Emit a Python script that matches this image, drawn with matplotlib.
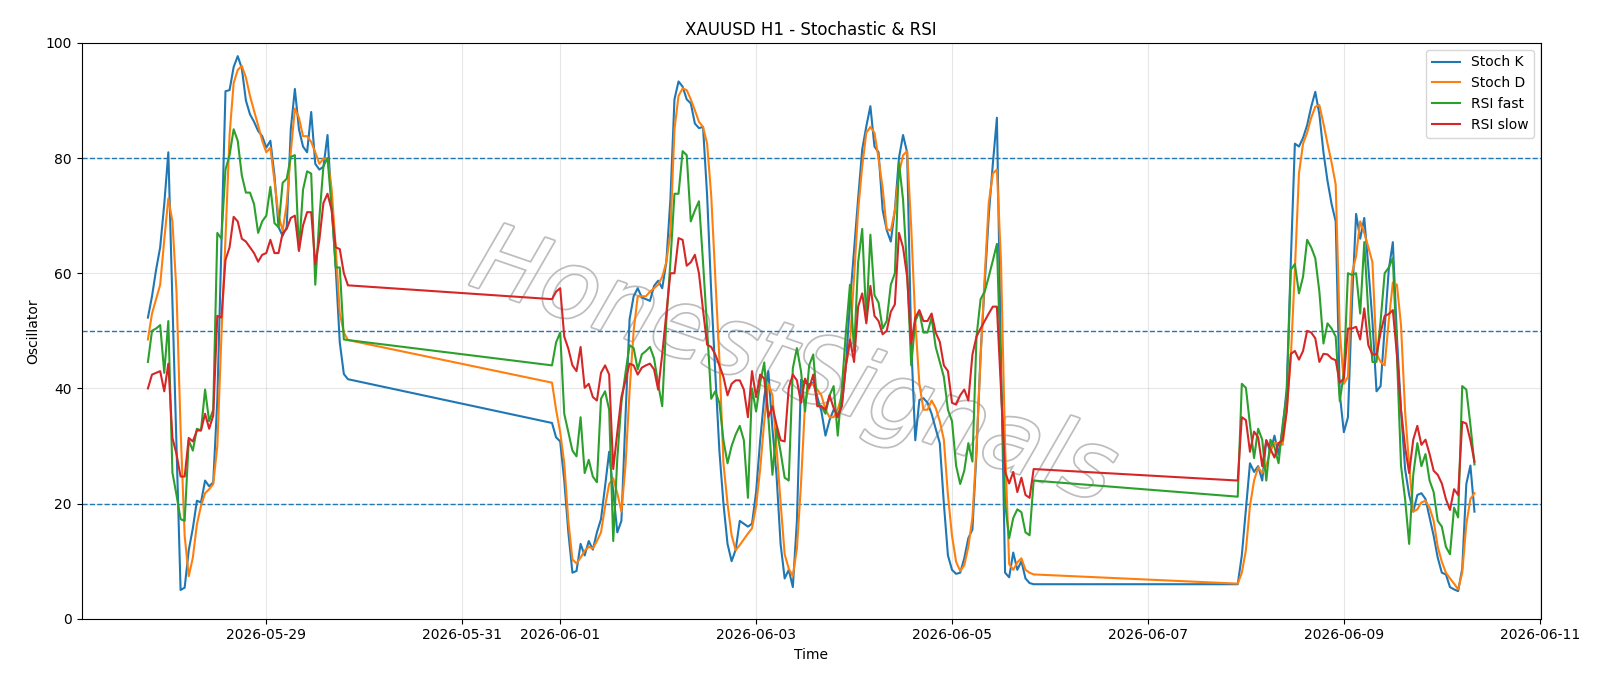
# XAUUSD H1 oscillators: Stochastic %K/%D and fast/slow RSI
# Hourly bars, three trading sessions (weekends skipped, lines join across gaps)

import pandas as pd
import matplotlib
matplotlib.use("Agg")
import matplotlib.pyplot as plt
import matplotlib.patheffects as pe

# trading sessions (start, end) - hourly bars
SESSIONS = [
    ("2026-05-27 19:00", "2026-05-29 20:00"),
    ("2026-05-31 22:00", "2026-06-05 20:00"),
    ("2026-06-07 22:00", "2026-06-10 08:00"),
]

# values read per hour, session by session
stoch_k = [
    # session 1
    52.3, 56, 60.6, 64.5, 72, 81, 55, 30, 5, 5.4,
    11.9, 15.7, 20.5, 20.2, 24, 23, 23.7, 38, 65, 91.6,
    91.8, 95.8, 97.7, 95.6, 90, 87.6, 86.3, 84.7, 83.8, 81.8,
    83, 77, 68, 66.5, 68, 85, 92, 85, 82, 81,
    88, 79, 78, 78.5, 84, 72, 61, 48, 42.5, 41.6,
    # session 2
    34, 31.5, 30.8, 24, 15, 8, 8.3, 13, 11, 13.5,
    12, 15, 17.3, 23, 29, 22, 15, 17, 35, 52,
    56, 57.4, 55.8, 55.5, 55.2, 57.8, 58.7, 57.4, 61.9, 72.8,
    90.2, 93.3, 92.4, 90.2, 89.5, 86, 85.2, 85.4, 73.5, 56.8,
    42.7, 29.2, 20, 13, 10, 12, 17, 16.5, 16, 16.5,
    22, 31, 38.5, 43, 33, 25, 13, 7, 8.5, 5.5,
    17, 41.5, 41, 40.7, 41, 38.5, 36, 31.8, 34.5, 36.3,
    35.5, 37, 44, 55, 64, 73, 81.5, 85.5, 89, 82,
    81, 71, 67.5, 65.5, 71, 80, 84, 81, 48, 31,
    38, 38.3, 37.5, 35.6, 33, 30.5, 20, 11, 8.5, 7.8,
    8, 10.5, 14, 15.5, 29, 46, 58, 70, 79, 87,
    45, 8, 7.2, 11.5, 8.5, 10, 7, 6.2, 6,
    # session 3
    6, 11, 19, 27, 25.5, 26.5, 24, 31, 29, 31.8,
    28.5, 33, 40, 62, 82.5, 82, 83.5, 85.7, 88.9, 91.5,
    87.6, 81, 76, 72, 69, 39, 32.4, 35, 55, 70.3,
    66, 69.6, 61, 51.7, 39.5, 40.4, 50.4, 60.6, 65.4, 49,
    36.3, 26, 21.5, 18.6, 21.5, 21.8, 20.8, 17.6, 14.4, 10.6,
    8, 7.7, 5.5, 5.1, 4.8, 8.7, 23.4, 26.6, 18.6,
]

stoch_d = [
    # session 1
    48.5, 53, 55.5, 58, 65.8, 73, 69, 56.8, 33, 14.4,
    7.4, 10.6, 16.4, 19.6, 21.8, 22.5, 23.4, 30, 49, 66,
    84, 93, 95.3, 96, 94, 90.8, 88.2, 85.7, 83, 81,
    81.8, 76, 70, 67.4, 72, 81, 88.6, 87, 83.8, 83.8,
    82.8, 81, 79, 79.9, 79.9, 74.7, 64.5, 53, 49.7, 48.4,
    # session 2
    41, 36.3, 32.4, 27, 17, 10.3, 9.6, 10.6, 11.8, 12.5,
    12.2, 13.5, 15, 19.5, 23.4, 24.4, 21.8, 18.6, 26.6, 39.5,
    50, 56, 56, 56, 56.8, 57.4, 58, 59.4, 61.9, 67,
    85, 90.8, 92.1, 91.8, 90.2, 88.3, 86.3, 85.4, 82.5, 73.5,
    59.4, 45.2, 27, 20, 14.5, 11.9, 12.8, 13.8, 14.8, 15.7,
    19.6, 26, 34.3, 40.8, 38.8, 29.8, 20.2, 11.2, 8.7, 7.4,
    12.2, 23.4, 37.5, 40.4, 40.8, 39.8, 38.8, 36.3, 35, 35,
    36.3, 38.8, 44, 47.8, 59.4, 70.9, 78.6, 84.4, 85.4, 84.4,
    79.9, 74.8, 67.7, 67.4, 70.9, 77.3, 80.5, 81.2, 68, 51.7,
    40.8, 36.3, 36.3, 37.9, 36.6, 34.3, 31.1, 21.5, 14.4, 9.9,
    8.3, 9.3, 12.5, 17.6, 29.8, 45.2, 59.4, 72.2, 77.3, 78,
    62, 30, 9.5, 8.5, 9.8, 10.5, 8.5, 8, 7.7,
    # session 3
    6.1, 8, 11.9, 19.6, 24, 26.3, 25.3, 26.6, 29.2, 30.5,
    30.5, 30.2, 36.3, 45.2, 60.6, 77.3, 82.5, 84.4, 87, 88.9,
    89.2, 86, 82.5, 79.2, 75.4, 50, 40.8, 42, 60, 63,
    69, 67, 64.5, 61.9, 46, 44.6, 44, 51.7, 58.4, 58,
    51, 36, 26.6, 18.6, 19, 20.2, 20.5, 19.3, 17, 12.5,
    9.9, 8, 7, 6.1, 5.1, 8, 16.4, 20.8, 21.8,
]

rsi_fast = [
    # session 1
    44.6, 50, 50.4, 51, 42.7, 51.7, 25.4, 21.5, 17.3, 17,
    31, 29.2, 33, 32.7, 39.8, 34.3, 36.3, 67, 66, 78,
    80.5, 85, 83, 77, 74, 74, 72, 67, 69, 70,
    75, 68.7, 68, 75.7, 76.4, 80.2, 80.5, 63.9, 74.5, 77.7,
    77.3, 58, 69.6, 78.6, 80, 71.5, 61, 61, 48.5, 48.4,
    # session 2
    44, 48, 49.7, 35.6, 32.4, 29.2, 28.2, 35, 25.3, 27.6,
    24.7, 23.7, 38.2, 39.5, 36.3, 13.5, 27.9, 37.5, 42.7, 47.5,
    47, 43.3, 45.9, 46.5, 47.2, 45.2, 40.8, 36.9, 51.7, 61.9,
    73.8, 73.8, 81.2, 80.5, 69, 70.9, 72.5, 61.9, 50.4, 38.2,
    39.5, 37.5, 31, 27, 30, 32, 33.5, 31, 21, 40,
    36, 41, 44.5, 35, 25, 33, 29, 24.5, 24, 43.5,
    47, 43, 36, 44, 45.9, 37.2, 36.9, 35.6, 38.8, 40.4,
    31.8, 40, 49.7, 58, 46.5, 61.9, 67.7, 51.7, 66.7, 56.2,
    54.9, 50.4, 51.7, 58, 60, 79.2, 72.8, 60.6, 44, 51.7,
    53.3, 49.7, 49.7, 52.3, 47.2, 44.6, 42, 36.3, 34.3, 26.6,
    23.4, 25.7, 30.5, 27.3, 49, 55.5, 56.8, 59.4, 62.2, 65.1,
    42, 20, 14, 17.5, 19, 18.5, 15, 14.5, 24,
    # session 3
    21.2, 40.8, 40.1, 33.7, 27.9, 33, 31.1, 24, 31.1, 29.8,
    27, 33.7, 38.8, 60.6, 61.6, 56.5, 59.4, 65.8, 64.5, 62.6,
    56.8, 47.8, 51.3, 50.4, 49, 37.8, 42.7, 60, 59.7, 60,
    53, 65.4, 53, 44.6, 44.6, 51.7, 60, 61, 62.6, 45.9,
    26.6, 20.8, 13, 25, 30.5, 26.5, 28.6, 24, 22, 17,
    16, 12.5, 11.2, 19.3, 17.6, 40.4, 39.8, 33.7, 26.8,
]

rsi_slow = [
    # session 1
    40, 42.4, 42.7, 43, 39.5, 44.3, 31.4, 28.6, 24.7, 24.7,
    31.4, 30.8, 32.7, 32.7, 35.6, 33, 35.3, 52.6, 52.3, 62.3,
    64.5, 69.8, 69, 66, 65.5, 64.5, 63.5, 62, 63.2, 63.5,
    65.8, 63.5, 63.5, 67, 67.7, 69.6, 70, 63.9, 68.3, 70.6,
    70.6, 61.6, 65.8, 72.2, 73.8, 71, 64.5, 64.2, 60, 57.9,
    # session 2
    55.5, 56.8, 57.4, 49, 46.9, 44, 43, 47.2, 40.1, 40.8,
    38.5, 37.9, 42.7, 44, 42.4, 26, 32.4, 38.5, 41.4, 44.3,
    44, 42.4, 43.6, 44, 44.3, 43.3, 39.8, 45.9, 52.9, 60,
    60, 66.1, 65.8, 61.3, 61.9, 63.2, 60, 53.6, 47.6, 47.2,
    45.9, 44, 42, 38.8, 40.8, 41.4, 41.4, 39.8, 35, 43,
    38.5, 42.4, 41.7, 35, 36.9, 33.7, 31, 30.8, 40.1, 42.4,
    41.4, 37.5, 41.7, 40, 42.4, 36.9, 36.9, 36.3, 38.8, 36.6,
    35, 36.9, 44, 48.5, 44.6, 54.2, 56.5, 51.3, 57.8, 52.6,
    51.7, 49.4, 50, 53.3, 54.6, 67, 64.5, 59.4, 47.8, 52.3,
    53.6, 51.7, 51.7, 53, 49.7, 48.1, 44, 43, 37.5, 37.2,
    38.8, 39.8, 37.9, 45.9, 49, 50.4, 51.7, 53, 54.2, 54.2,
    40, 25.5, 23.5, 25.5, 22, 24.5, 21.5, 21, 26,
    # session 3
    24, 35, 34.5, 29, 32.5, 31.5, 26.5, 31, 29.5, 28,
    30.5, 31, 36, 46, 46.5, 45, 46.5, 50, 49.7, 48.7,
    44.6, 46, 45.9, 45.2, 44.9, 41, 41.7, 50.4, 50.4, 50.7,
    48.5, 53.9, 47.5, 45.9, 45.9, 49.7, 52.6, 52.9, 53.6, 45.9,
    36.3, 29.8, 25.3, 31.1, 33.5, 30.2, 31.1, 28.6, 25.7, 25,
    23.5, 20.8, 18.9, 22.5, 21.5, 34.2, 33.9, 31, 27.3,
]

LEVELS = [20, 50, 80]


def build_index(sessions):
    """Hourly timestamps for each trading session, joined together."""
    parts = [pd.date_range(start, end, freq="h") for start, end in sessions]
    return parts[0].append(parts[1:])


def plot_oscillators(df):
    fig, ax = plt.subplots(figsize=(16, 6.86), dpi=100)

    ax.plot(df.index, df["Stoch K"], label="Stoch K", color="tab:blue", zorder=3)
    ax.plot(df.index, df["Stoch D"], label="Stoch D", color="tab:orange", zorder=3)
    ax.plot(df.index, df["RSI fast"], label="RSI fast", color="tab:green", zorder=3)
    ax.plot(df.index, df["RSI slow"], label="RSI slow", color="tab:red", zorder=3)

    for lvl in LEVELS:
        ax.axhline(lvl, linestyle="--", linewidth=1, color="tab:blue", zorder=2)

    # watermark
    ax.text(0.488, 0.435, "HonestSignals", transform=ax.transAxes,
            rotation=-19, fontsize=68, style="italic", color="white",
            ha="center", va="center", zorder=1.5,
            path_effects=[pe.withStroke(linewidth=2.5, foreground="#bdbdbd")])

    ax.set_ylim(0, 100)
    ax.set_title("XAUUSD H1 - Stochastic & RSI")
    ax.set_xlabel("Time")
    ax.set_ylabel("Oscillator")
    ax.grid(True, alpha=0.3)
    ax.legend(loc="upper right")

    fig.subplots_adjust(left=0.051, right=0.963, top=0.9375, bottom=0.098)
    fig.savefig("out.png", dpi=100)


if __name__ == "__main__":
    idx = build_index(SESSIONS)
    df = pd.DataFrame({
        "Stoch K": stoch_k,
        "Stoch D": stoch_d,
        "RSI fast": rsi_fast,
        "RSI slow": rsi_slow,
    }, index=idx)
    plot_oscillators(df)
